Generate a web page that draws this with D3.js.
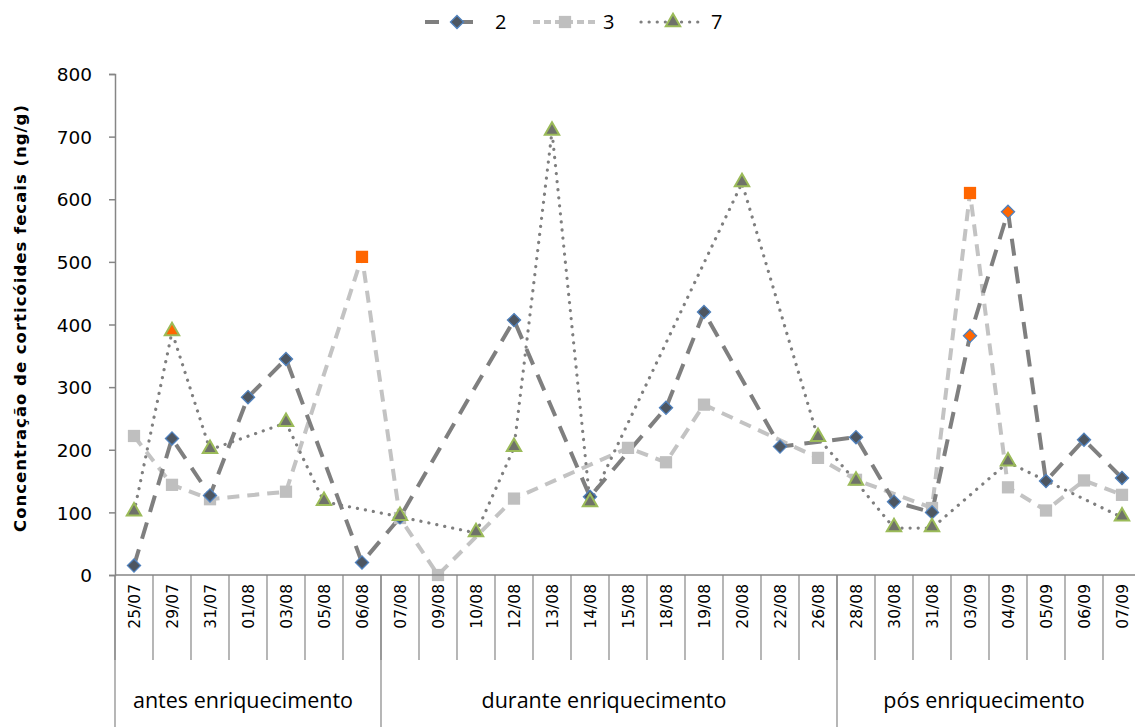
<!DOCTYPE html>
<html>
<head>
<meta charset="utf-8">
<script src="https://cdn.jsdelivr.net/npm/d3@7"></script>
<style>
  body { margin: 0; background: #fff; }
  svg { display: block; }
  text { font-family: "DejaVu Sans", Verdana, sans-serif; fill: #000; }
</style>
</head>
<body>
<svg id="chart_svg" width="1135" height="727"></svg>
<script>
// categories (dates) and groups
var dates = ["25/07","29/07","31/07","01/08","03/08","05/08","06/08",
             "07/08","09/08","10/08","12/08","13/08","14/08","15/08","18/08","19/08","20/08","22/08","26/08",
             "28/08","30/08","31/08","03/09","04/09","05/09","06/09","07/09"]
var groups = ["antes enriquecimento","durante enriquecimento","pós enriquecimento"]
var groupSizes = [7, 12, 8]
var yTicks = [0,100,200,300,400,500,600,700,800]

// values per animal (null = no sample, line spans it)
var s2 = [15,218,127,284,345,null,20, 92,null,null,407,null,125,null,267,420,null,205,null, 220,117,100,382,580,150,216,155]
var s3 = [222,144,121,null,133,null,508, 91,0,null,122,null,null,203,180,272,null,null,187, 152,null,107,610,140,103,151,128]
var s7 = [100,388,200,null,243,117,null, 93,null,67,203,708,115,null,null,null,626,null,219, 149,75,75,null,180,null,null,92]

// points highlighted in orange
var high2 = ["03/09","04/09"]
var high3 = ["06/08","03/09"]
var high7 = ["29/07"]

var series = [
  {name:"2", values:s2, high:high2, stroke:"#7f7f7f", width:4, dash:"17,11", cap:"butt", marker:"diamond", fill:"#4d5661", mstroke:"#4f81bd"},
  {name:"3", values:s3, high:high3, stroke:"#c3c3c3", width:4, dash:"12,8", cap:"butt", marker:"square", fill:"#bfbfbf", mstroke:"none"},
  {name:"7", values:s7, high:high7, stroke:"#7f7f7f", width:3.2, dash:"0.1,8", cap:"round", marker:"triangle", fill:"#6f726a", mstroke:"#9bbb59"}
]

var svg = d3.select("#chart_svg")
var mLeft = 115, mRight = 1141, mTop = 74, mBottom = 575

var x = d3.scaleBand().domain(dates).range([mLeft, mRight]).padding(0)
var y = d3.scaleLinear().domain([0, 800]).range([mBottom, mTop])

var plot = svg.append("g")

// y axis
var yAxis = d3.axisLeft(y).tickValues(yTicks).tickSize(6).tickFormat(d3.format("d"))
var yg = plot.append("g").attr("transform", `translate(${mLeft},0)`).call(yAxis)
yg.select(".domain").attr("stroke", "#868686").attr("stroke-width", 1.5)
yg.selectAll(".tick line").attr("stroke", "#868686").attr("stroke-width", 1.5)
yg.selectAll(".tick text").attr("x", -23).attr("dy", "0.36em")
  .style("font-size", "18.5px").style("font-family", "Verdana, 'DejaVu Sans', sans-serif").attr("fill", "#222")

svg.append("text")
  .attr("transform", `translate(26,318) rotate(-90)`)
  .attr("text-anchor", "middle")
  .style("font-size", "16.5px").style("font-weight", "bold")
  .style("letter-spacing", "1px")
  .style("font-family", "Verdana, 'DejaVu Sans', sans-serif")
  .text("Concentração de corticóides fecais (ng/g)")

// x axis: baseline, category separators, group separators
svg.append("line").attr("x1", mLeft).attr("x2", 1135).attr("y1", mBottom).attr("y2", mBottom)
  .attr("stroke", "#868686").attr("stroke-width", 1.5)

var seps = dates.map(d => x(d)).concat([mRight])
svg.selectAll(".sep").data(seps).join("line").attr("class", "sep")
  .attr("x1", d => d).attr("x2", d => d).attr("y1", mBottom).attr("y2", 660)
  .attr("stroke", "#868686").attr("stroke-width", 1.2)

var gStart = 0
var groupRanges = groups.map((g, i) => {
  var a = x(dates[gStart]); gStart += groupSizes[i]
  var b = gStart < dates.length ? x(dates[gStart]) : mRight
  return {name: g, a: a, b: b}
})
svg.selectAll(".gsep").data(groupRanges).join("line").attr("class", "gsep")
  .attr("x1", d => d.a).attr("x2", d => d.a).attr("y1", mBottom).attr("y2", 727)
  .attr("stroke", "#868686").attr("stroke-width", 1.2)

svg.selectAll(".glabel").data(groupRanges).join("text").attr("class", "glabel")
  .attr("x", d => (d.a + d.b) / 2 - 5)
  .attr("y", 708)
  .attr("text-anchor", "middle")
  .style("font-size", "21.5px")
  .style("font-family", "'Open Sans', 'DejaVu Sans', sans-serif")
  .attr("fill", "#222")
  .text(d => d.name)

svg.selectAll(".xlabel").data(dates).join("text").attr("class", "xlabel")
  .attr("transform", d => `translate(${x(d) + x.bandwidth()/2 + 6},584) rotate(-90)`)
  .attr("text-anchor", "end")
  .style("font-size", "15.5px")
  .style("font-family", "Verdana, 'DejaVu Sans', sans-serif")
  .attr("fill", "#222")
  .text(d => d)

// lines
var cx = d => x(d.date) + x.bandwidth()/2
var line = d3.line().x(cx).y(d => y(d.v))

series.forEach(s => {
  s.points = dates.map((d, i) => ({date: d, v: s.values[i]})).filter(p => p.v !== null)
})

// draw lines in back-to-front order as in reference
var order = [series[1], series[0], series[2]]
order.forEach(s => {
  plot.append("path").datum(s.points)
    .attr("d", line)
    .attr("fill", "none")
    .attr("stroke", s.stroke)
    .attr("stroke-width", s.width)
    .attr("stroke-dasharray", s.dash)
    .attr("stroke-linecap", s.cap)
    .attr("stroke-linejoin", "round")
})

var symbols = {
  diamond: d3.symbol().type(d3.symbolDiamond2).size(110),
  square: d3.symbol().type(d3.symbolSquare).size(150),
  triangle: d3.symbol().type(d3.symbolTriangle).size(90)
}

function drawMarkers(g, s, pts, xf, yf) {
  g.selectAll(".m").data(pts).join("path")
    .attr("d", symbols[s.marker])
    .attr("transform", d => `translate(${xf(d)},${yf(d)})`)
    .attr("fill", d => s.high.includes(d.date) ? "#ff6600" : s.fill)
    .attr("stroke", s.mstroke)
    .attr("stroke-width", s.marker == "triangle" ? 2 : 1.3)
}

order.forEach(s => {
  drawMarkers(plot.append("g"), s, s.points, cx, d => y(d.v) - (s.marker == "triangle" ? 1 : 0))
})

// legend
var legendX = [425, 533, 641]
var lg = svg.append("g")
series.forEach((s, i) => {
  var x0 = legendX[i]
  lg.append("line").attr("x1", x0).attr("x2", x0 + 62).attr("y1", 22).attr("y2", 22)
    .attr("stroke", s.stroke).attr("stroke-width", s.width)
    .attr("stroke-dasharray", i == 0 ? "14,20" : (i == 1 ? "7,4" : s.dash))
    .attr("stroke-linecap", s.cap)
  drawMarkers(lg.append("g"), s, [{date: "legend"}], () => x0 + 32, () => 22)
  lg.append("text").attr("x", x0 + 70).attr("y", 29)
    .style("font-size", "20px")
    .style("font-family", "'Open Sans', 'DejaVu Sans', sans-serif")
    .attr("fill", "#111")
    .text(s.name)
})
</script>
</body>
</html>
